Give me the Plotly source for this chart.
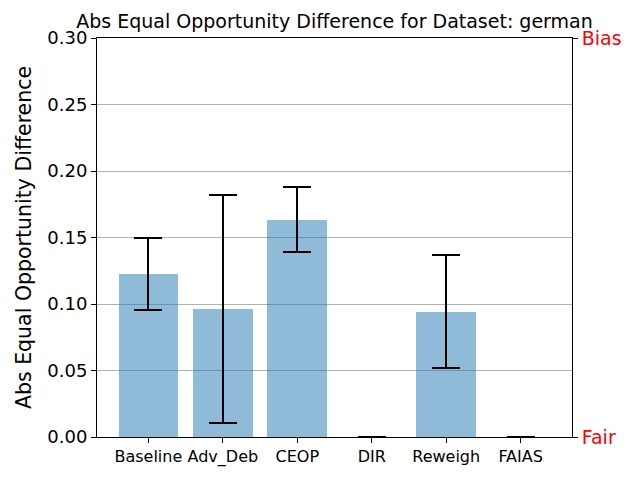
import plotly.graph_objects as go

categories = ["Baseline", "Adv_Deb", "CEOP", "DIR", "Reweigh", "FAIAS"]
means = [0.1225, 0.0962, 0.1635, 0.0, 0.0940, 0.0]
err_upper = [0.1497, 0.1822, 0.1880, 0.0, 0.1370, 0.0]
err_lower = [0.0955, 0.0105, 0.1392, 0.0, 0.0520, 0.0]

title = "Abs Equal Opportunity Difference for Dataset: german"
ylabel = "Abs Equal Opportunity Difference"
yticks = [0.0, 0.05, 0.10, 0.15, 0.20, 0.25, 0.30]
right_ticks = [0.0, 0.30]
right_labels = ["Fair", "Bias"]

xs = list(range(len(categories)))
plus = [u - m for u, m in zip(err_upper, means)]
minus = [m - l for m, l in zip(means, err_lower)]

fig = go.Figure()
fig.add_trace(go.Bar(
    x=xs, y=means, width=0.8,
    marker=dict(color="rgba(31,119,180,0.5)", line=dict(width=0)),
    error_y=dict(type="data", symmetric=False, array=plus, arrayminus=minus,
                 color="black", thickness=2, width=14),
    showlegend=False,
))
fig.add_trace(go.Scatter(x=[0], y=[0], yaxis="y2", mode="markers",
                         marker=dict(opacity=0), showlegend=False, hoverinfo="skip"))

font = "DejaVu Sans"
fig.update_layout(
    width=632, height=472,
    margin=dict(l=89, r=68, t=30, b=43),
    paper_bgcolor="white", plot_bgcolor="white",
    font=dict(family=font, color="black"),
    title=dict(text=title, x=0.5, xref="paper", xanchor="center",
               y=0.972, yref="container", yanchor="middle",
               font=dict(size=19, family=font)),
    bargap=0,
    xaxis=dict(range=[-0.69, 5.69], tickvals=xs, ticktext=categories,
               tickfont=dict(size=16), showgrid=False, zeroline=False,
               showline=True, linecolor="black", linewidth=1, mirror=True,
               ticks="outside", ticklen=5, tickcolor="black"),
    yaxis=dict(range=[0, 0.30], tickvals=yticks,
               ticktext=[f"{v:.2f}" for v in yticks],
               tickfont=dict(size=18), showgrid=True, gridcolor="#b0b0b0", gridwidth=1,
               zeroline=False, showline=True, linecolor="black", linewidth=1,
               mirror=True, ticks="outside", ticklen=5, tickcolor="black",
               title=dict(text=ylabel, font=dict(size=20.5), standoff=10)),
    yaxis2=dict(range=[0, 0.30], overlaying="y", side="right", tickvals=right_ticks,
                ticktext=right_labels, tickfont=dict(size=19, color="red"),
                showgrid=False, zeroline=False, ticks="outside", ticklen=5,
                tickcolor="black"),
)
fig.write_html("out.html")
